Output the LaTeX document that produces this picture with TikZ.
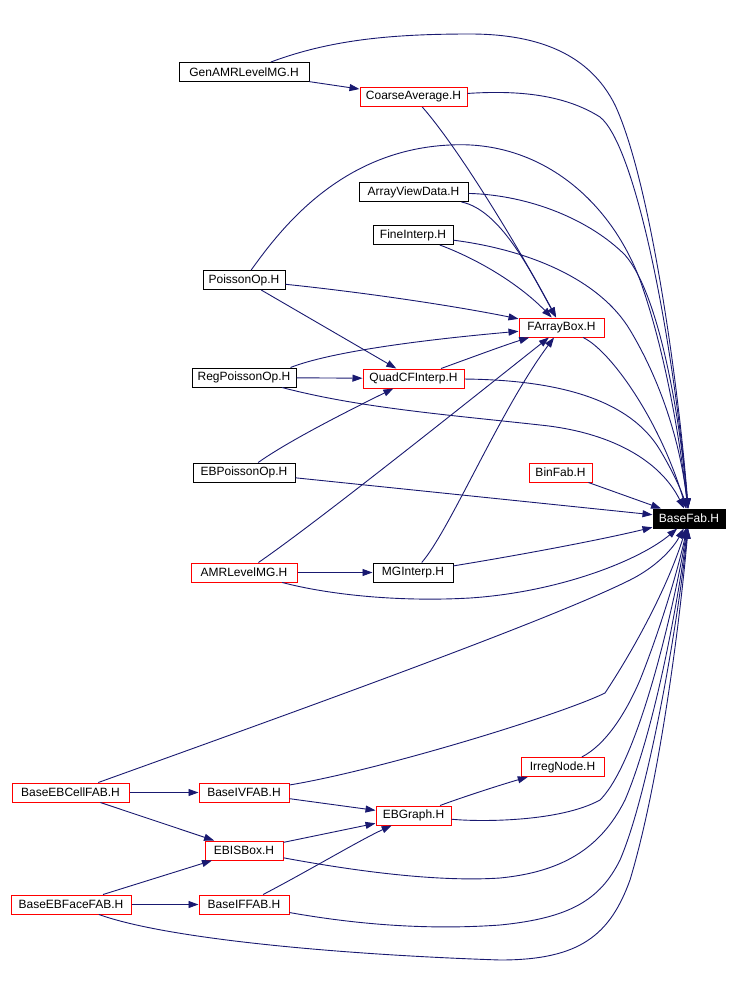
\documentclass[tikz,border=0pt]{standalone}
\usepackage{fontspec}
\setmainfont{Liberation Sans}
\usepackage{xcolor}
\usepackage{tikz}
\usetikzlibrary{arrows.meta,positioning}
\definecolor{depblue}{RGB}{25,25,112}
\definecolor{hdrred}{RGB}{255,0,0}

\begin{document}
\begin{tikzpicture}[
    x=1pt,
    y=-1pt,
    >={Triangle[length=10pt,width=7pt]},
    hdr/.style={
        draw=black,
        line width=1pt,
        minimum height=19,
        inner sep=1pt,
        font=\fontsize{12}{14}\selectfont
    },
    hdrmiss/.style={
        hdr,
        draw=hdrred
    },
    dep/.style={
        ->,
        line width=0.9pt,
        depblue
    }
]

\useasboundingbox (0,0) rectangle (738,996);

% Header boxes
\node[hdr, minimum width=130] (gen) at (244,72) {GenAMRLevelMG.H};
\node[hdrmiss, minimum width=107] (coarse) at (413.5,97) {CoarseAverage.H};
\node[hdr, minimum width=109] (avd) at (413.5,192) {ArrayViewData.H};
\node[hdr, minimum width=80] (fine) at (413,235) {FineInterp.H};
\node[hdr, minimum width=82] (poisson) at (244,280) {PoissonOp.H};
\node[hdrmiss, minimum width=85] (fab) at (561.5,327.5) {FArrayBox.H};
\node[hdr, minimum width=104] (regp) at (244,377.5) {RegPoissonOp.H};
\node[hdrmiss, minimum width=101] (quad) at (413.5,378.5) {QuadCFInterp.H};
\node[hdr, minimum width=102] (ebp) at (244,472.5) {EBPoissonOp.H};
\node[hdrmiss, minimum width=63] (binfab) at (560.5,472.5) {BinFab.H};
\node[hdr, minimum width=72, fill=black, text=white] (basefab) at (689,518.5) {BaseFab.H};
\node[hdrmiss, minimum width=106] (amr) at (244,572.5) {AMRLevelMG.H};
\node[hdr, minimum width=80] (mgi) at (413,572.5) {MGInterp.H};
\node[hdrmiss, minimum width=83] (irreg) at (562.5,767) {IrregNode.H};
\node[hdrmiss, minimum width=117] (becf) at (70.5,792.5) {BaseEBCellFAB.H};
\node[hdrmiss, minimum width=90] (biv) at (244,792.5) {BaseIVFAB.H};
\node[hdrmiss, minimum width=75] (ebg) at (413.5,815.5) {EBGraph.H};
\node[hdrmiss, minimum width=78] (ebis) at (244,850.5) {EBISBox.H};
\node[hdrmiss, minimum width=120] (beff) at (71,904.5) {BaseEBFaceFAB.H};
\node[hdrmiss, minimum width=90] (bif) at (244,904.5) {BaseIFFAB.H};

% Top part
\draw[dep] (gen) -- (coarse);
\draw[dep] (gen) .. controls (330,40) and (390,34) .. (470,34)
    .. controls (540,34) and (590,55) .. (615,105)
    .. controls (650,180) and (678,380) .. (basefab);
\draw[dep] (coarse) .. controls (460,150) and (520,250) .. (fab);
\draw[dep] (coarse) .. controls (520,90) and (565,95) .. (600,117)
    .. controls (635,145) and (672,330) .. (basefab);
\draw[dep] (avd) .. controls (500,210) and (530,270) .. (fab);
\draw[dep] (avd) .. controls (530,195) and (590,220) .. (625,255)
    .. controls (660,295) and (680,420) .. (basefab);
\draw[dep] (fine) .. controls (480,260) and (520,285) .. (fab);
\draw[dep] (fine) .. controls (530,250) and (600,280) .. (630,330)
    .. controls (660,380) and (680,440) .. (basefab);
\draw[dep] (poisson) .. controls (280,230) and (340,150) .. (450,145)
    .. controls (540,140) and (610,200) .. (640,280)
    .. controls (665,350) and (680,440) .. (basefab);
\draw[dep] (poisson) .. controls (360,292) and (450,305) .. (fab);
\draw[dep] (poisson) -- (quad);

% Middle part
\draw[dep] ([xshift=-6pt]regp.north east) .. controls (330,352) and (420,340) .. (fab);
\draw[dep] (regp) -- (quad);
\draw[dep] (regp) .. controls (360,408) and (450,415) .. (540,425)
    .. controls (610,432) and (660,460) .. (basefab);
\draw[dep] (quad) .. controls (470,358) and (505,345) .. (fab);
\draw[dep] (quad) .. controls (560,380) and (630,400) .. (660,450)
    .. controls (675,475) and (683,495) .. (basefab);
\draw[dep] (fab) .. controls (610,350) and (660,420) .. (basefab);
\draw[dep] (ebp) .. controls (290,440) and (350,410) .. (quad);
\draw[dep] (ebp) -- (basefab);
\draw[dep] (binfab) -- (basefab);
\draw[dep] (amr) .. controls (320,520) and (470,400) .. (fab);
\draw[dep] (amr) -- (mgi);
\draw[dep] (amr) .. controls (330,595) and (400,602) .. (470,598)
    .. controls (560,592) and (640,560) .. (basefab);
\draw[dep] (mgi) .. controls (450,530) and (500,410) .. (fab);
\draw[dep] (mgi) .. controls (520,555) and (600,540) .. (basefab);

% Bottom part
\draw[dep] (becf) .. controls (300,710) and (550,620) .. (630,580)
    .. controls (660,565) and (675,545) .. (basefab);
\draw[dep] (becf) -- (biv);
\draw[dep] (becf) -- (ebis);
\draw[dep] (biv) .. controls (380,770) and (560,715) .. (605,693)
    .. controls (640,640) and (670,580) .. (basefab);
\draw[dep] (biv) -- (ebg);
\draw[dep] (ebg) .. controls (460,798) and (500,785) .. (irreg);
\draw[dep] (ebg) .. controls (480,822) and (560,822) .. (600,800)
    .. controls (640,760) and (675,600) .. (basefab);
\draw[dep] (irreg) .. controls (605,745) and (625,715) .. (640,680)
    .. controls (660,630) and (678,570) .. (basefab);
\draw[dep] (ebis) -- (ebg);
\draw[dep] (ebis) .. controls (360,872) and (440,882) .. (500,878)
    .. controls (560,872) and (600,850) .. (625,800)
    .. controls (655,730) and (678,600) .. (basefab);
\draw[dep] (beff) -- (ebis);
\draw[dep] (beff) -- (bif);
\draw[dep] (beff) .. controls (170,940) and (350,955) .. (500,960)
    .. controls (580,960) and (610,935) .. (630,880)
    .. controls (660,780) and (680,620) .. (basefab);
\draw[dep] (bif) .. controls (310,870) and (360,840) .. (ebg);
\draw[dep] (bif) .. controls (360,925) and (430,930) .. (500,925)
    .. controls (570,918) and (600,900) .. (620,860)
    .. controls (650,790) and (678,620) .. (basefab);
\end{tikzpicture}
\end{document}
